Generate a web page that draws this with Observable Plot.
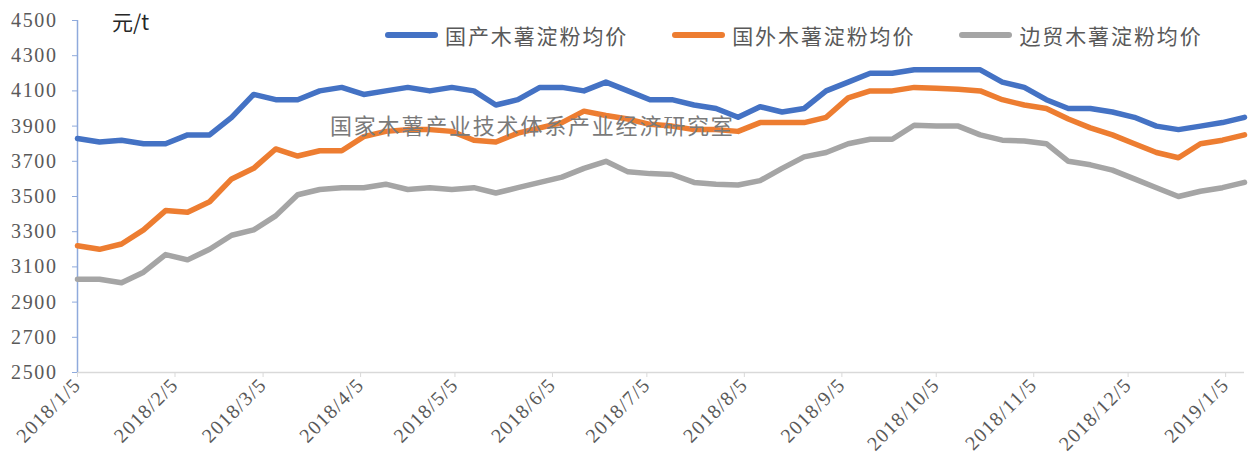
<!DOCTYPE html>
<html>
<head>
<meta charset="utf-8">
<script src="https://cdn.jsdelivr.net/npm/d3@7"></script>
<script src="https://cdn.jsdelivr.net/npm/@observablehq/plot@0.6"></script>
<style>
  html, body { margin: 0; padding: 0; background: #fff; }
  #wrap { position: relative; width: 1254px; height: 465px; overflow: hidden; }
  #wrap svg { position: absolute; left: 0; top: 0; }
  .ov { position: absolute; white-space: nowrap; font-family: "Noto Sans CJK SC", sans-serif; }
  #legend { left: 385px; top: 22px; display: flex; align-items: center; font-size: 21px; line-height: 26px; color: #595959; letter-spacing: 1.9px; }
  #legend .item { display: flex; align-items: center; margin-right: 44px; }
  #legend .sw { display: inline-block; width: 53px; height: 6px; border-radius: 3px; margin-right: 7px; }
  #unit { left: 112px; top: 8px; font-size: 21px; line-height: 26px; color: #262626; }
  #wm { left: 330px; top: 111px; font-size: 22px; line-height: 26px; color: #7a7a7a; letter-spacing: 1.8px; }
  svg [aria-label="y-axis tick label"] text { letter-spacing: 1.6px; }
  svg [aria-label="x-axis tick label"] text { letter-spacing: 1.3px; }
</style>
</head>
<body>
<div id="wrap"></div>
<script>
// ---- data ----
const dates = [
  "2018-01-05","2018-01-12","2018-01-19","2018-01-26","2018-02-02","2018-02-09","2018-02-16","2018-02-23",
  "2018-03-02","2018-03-09","2018-03-16","2018-03-23","2018-03-30","2018-04-06","2018-04-13","2018-04-20",
  "2018-04-27","2018-05-04","2018-05-11","2018-05-18","2018-05-25","2018-06-01","2018-06-08","2018-06-15",
  "2018-06-22","2018-06-29","2018-07-06","2018-07-13","2018-07-20","2018-07-27","2018-08-03","2018-08-10",
  "2018-08-17","2018-08-24","2018-08-31","2018-09-07","2018-09-14","2018-09-21","2018-09-28","2018-10-05",
  "2018-10-12","2018-10-19","2018-10-26","2018-11-02","2018-11-09","2018-11-16","2018-11-23","2018-11-30",
  "2018-12-07","2018-12-14","2018-12-21","2018-12-28","2019-01-04","2019-01-11"
];
const seriesNames = ["国产木薯淀粉均价", "国外木薯淀粉均价", "边贸木薯淀粉均价"];
const seriesColors = ["#4472C4", "#ED7D31", "#A5A5A5"];
const domestic = [3830,3810,3820,3800,3800,3850,3850,3950,4080,4050,4050,4100,4120,4080,4100,4120,4100,4120,4100,4020,
  4050,4120,4120,4100,4150,4100,4050,4050,4020,4000,3950,4010,3980,4000,4100,4150,4200,4200,4220,4220,
  4220,4220,4150,4120,4050,4000,4000,3980,3950,3900,3880,3900,3920,3950];
const foreign = [3220,3200,3230,3310,3420,3410,3470,3600,3660,3770,3730,3760,3760,3840,3870,3880,3880,3870,3820,3810,
  3860,3890,3920,3985,3960,3940,3910,3900,3880,3880,3870,3920,3920,3920,3950,4060,4100,4100,4120,4115,
  4110,4100,4050,4020,4000,3940,3890,3850,3800,3750,3720,3800,3820,3850];
const border = [3030,3030,3010,3070,3170,3140,3200,3280,3310,3390,3510,3540,3550,3550,3570,3540,3550,3540,3550,3520,
  3550,3580,3610,3660,3700,3640,3630,3625,3580,3570,3565,3590,3660,3725,3750,3800,3825,3825,3905,3900,
  3900,3850,3820,3815,3800,3700,3680,3650,3600,3550,3500,3530,3550,3580];
const xTickLabels = ["2018/1/5","2018/2/5","2018/3/5","2018/4/5","2018/5/5","2018/6/5","2018/7/5",
  "2018/8/5","2018/9/5","2018/10/5","2018/11/5","2018/12/5","2019/1/5"];
const yTicks = [2500,2700,2900,3100,3300,3500,3700,3900,4100,4300,4500];
const unitLabel = "元/t";
const watermark = "国家木薯产业技术体系产业经济研究室";

// ---- build ----
const parse = d3.utcParse("%Y-%m-%d");
const parseTick = d3.utcParse("%Y/%m/%d");
const allSeries = [domestic, foreign, border];
const rows = [];
allSeries.forEach((vals, s) => vals.forEach((v, i) => rows.push({date: parse(dates[i]), value: v, series: seriesNames[s]})));
const tickDates = xTickLabels.map(t => parseTick(t));
const fmt = d => `${d.getUTCFullYear()}/${d.getUTCMonth() + 1}/${d.getUTCDate()}`;
const x0 = parse(dates[0]);

const chart = Plot.plot({
  width: 1254,
  height: 465,
  marginLeft: 77,
  marginRight: 10,
  marginTop: 20,
  marginBottom: 93,
  style: {fontFamily: "'Liberation Serif', 'Times New Roman', serif", background: "transparent"},
  x: {type: "utc", domain: [x0, parse(dates[dates.length - 1])]},
  y: {domain: [2500, 4500]},
  color: {domain: seriesNames, range: seriesColors},
  marks: [
    Plot.ruleY([2500], {stroke: "#d9d9d9", strokeWidth: 1.5}),
    Plot.axisX({ticks: tickDates, tickFormat: fmt, tickRotate: -45, tickSize: 5, tickPadding: 4,
      stroke: "#d9d9d9", fill: "#595959", fontSize: 20, label: null}),
    Plot.axisY({ticks: yTicks, tickFormat: d => String(d), tickSize: 5, tickPadding: 15,
      stroke: "#8FAADC", fill: "#595959", fontSize: 20, label: null}),
    Plot.ruleX([x0], {stroke: "#8FAADC", strokeWidth: 1.5}),
    Plot.line(rows, {x: "date", y: "value", z: "series", stroke: "series", strokeWidth: 5.5,
      strokeLinejoin: "round", strokeLinecap: "round"})
  ]
});

const wrap = document.getElementById("wrap");
wrap.appendChild(chart);

// legend
const legend = document.createElement("div");
legend.id = "legend"; legend.className = "ov";
seriesNames.forEach((n, i) => {
  const it = document.createElement("div"); it.className = "item";
  const sw = document.createElement("span"); sw.className = "sw"; sw.style.background = seriesColors[i];
  const tx = document.createElement("span"); tx.textContent = n;
  it.appendChild(sw); it.appendChild(tx); legend.appendChild(it);
});
wrap.appendChild(legend);

const unit = document.createElement("div");
unit.id = "unit"; unit.className = "ov"; unit.textContent = unitLabel;
wrap.appendChild(unit);

const wm = document.createElement("div");
wm.id = "wm"; wm.className = "ov"; wm.textContent = watermark;
wrap.appendChild(wm);
</script>
</body>
</html>
